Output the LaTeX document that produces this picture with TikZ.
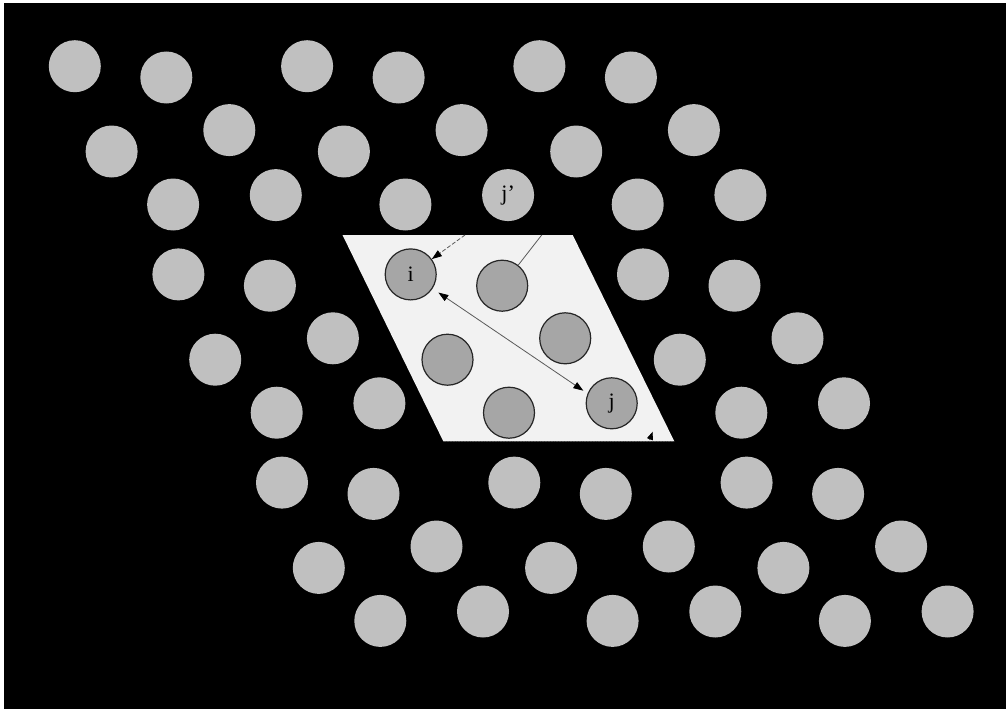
\documentclass[tikz,border=0pt]{standalone}
\usepackage{fontspec}
\setmainfont{Liberation Serif}
\usetikzlibrary{arrows.meta}
\definecolor{outergray}{HTML}{C0C0C0}
\definecolor{innergray}{HTML}{A6A6A6}
\definecolor{cellfill}{HTML}{F2F2F2}
\definecolor{linegray}{HTML}{5A5A5A}
\begin{document}
\begin{tikzpicture}[x=1pt,y=-1pt,
  outerdisc/.style={circle,fill=outergray,minimum size=52pt,inner sep=0pt},
  innerdisc/.style={circle,fill=innergray,draw=black!85,line width=1.2pt,minimum size=51pt,inner sep=0pt,font=\fontsize{22}{22}\selectfont},
  labeltext/.style={font=\fontsize{22}{22}\selectfont,inner sep=0pt},
  conn/.style={draw=linegray,line width=0.8pt},
  tip/.style={-{Triangle[length=10pt,width=7pt,color=black]}}
]
\useasboundingbox (0,0) rectangle (1006,709);
\fill[white] (0,0) rectangle (1006,709);
\fill[black] (4,3) rectangle (1006,709);
% periodic images
\foreach \m/\n in {-1/-1,0/-1,1/-1,-1/0,1/0,-1/1,0/1,1/1} {
  \foreach \k/\dx/\dy in {1/0/0,2/91.5/11.3,3/154.5/63.9,4/36.8/85.3,5/98.3/138.3,6/201/128.9} {
    \node[outerdisc] (c\m\n\k) at ({410.7+232.3*\m+103.6*\n+\dx},{274.4+208.2*\n+\dy}) {};
  }
}
\node[labeltext] at (c0-16.center) {j’};
% simulation cell
\coordinate (tl) at (342.5,235);
\coordinate (tr) at (572.7,235);
\coordinate (br) at (674.3,441.3);
\coordinate (bl) at (443.3,441.3);
\fill[cellfill] (tl) -- (tr) -- (br) -- (bl) -- cycle;
\draw[dotted,black!75,line width=0.8pt] (bl) -- (br);
% particles in the cell
\node[innerdisc] (i) at (410.7,274.4) {i};
\node[innerdisc] (p2) at (502.2,285.7) {};
\node[innerdisc] (p3) at (565.2,338.3) {};
\node[innerdisc] (p4) at (447.5,359.7) {};
\node[innerdisc] (p5) at (509,412.7) {};
\node[innerdisc] (j) at (611.7,403.3) {j};
% connectors
\coordinate (dstart) at (465,235);
\draw[conn,dashed,dash pattern=on 4pt off 2pt,tip] (dstart) -- (i);
\coordinate (sstart) at (541.7,235);
\draw[conn] (sstart) -- (p2);
\draw[conn,{Triangle[length=10pt,width=7pt,color=black]}-{Triangle[length=10pt,width=7pt,color=black]},shorten <=7pt,shorten >=5pt] (i.-33) -- (j.158);
\coordinate (s1) at (649.6,440);
\coordinate (s2) at (652.7,431.7);
\draw[-{Triangle[length=8pt,width=6pt,color=black]},line width=0.6pt,black] (s1) -- (s2);
\end{tikzpicture}
\end{document}
